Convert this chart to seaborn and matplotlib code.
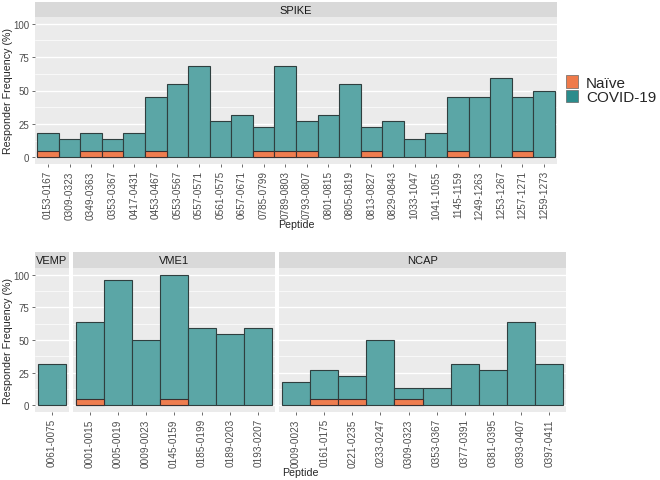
import numpy as np
import pandas as pd
import matplotlib
import matplotlib.pyplot as plt
import seaborn as sns
from matplotlib.patches import Patch

matplotlib.use('agg')

# Data
spike_peptides = ['0153-0167', '0309-0323', '0349-0363', '0353-0367', '0417-0431', '0453-0467',
                  '0553-0567', '0557-0571', '0561-0575', '0657-0671', '0785-0799', '0789-0803',
                  '0793-0807', '0801-0815', '0805-0819', '0813-0827', '0829-0843', '1033-1047',
                  '1041-1055', '1145-1159', '1249-1263', '1253-1267', '1257-1271', '1259-1273']
spike_covid = [18.2, 13.6, 18.2, 13.6, 18.2, 45.5, 54.5, 68.2, 27.3, 31.8, 22.7, 68.2,
               27.3, 31.8, 54.5, 22.7, 27.3, 13.6, 18.2, 45.5, 45.5, 59.1, 45.5, 50.0]
spike_naive = [5, 0, 5, 5, 0, 5, 0, 0, 0, 0, 5, 5,
               5, 0, 0, 5, 0, 0, 0, 5, 0, 0, 5, 0]

vemp_peptides = ['0061-0075']
vemp_covid = [31.8]
vemp_naive = [0]

vme1_peptides = ['0001-0015', '0005-0019', '0009-0023', '0145-0159', '0185-0199', '0189-0203', '0193-0207']
vme1_covid = [63.6, 95.5, 50.0, 100.0, 59.1, 54.5, 59.1]
vme1_naive = [5, 0, 0, 5, 0, 0, 0]

ncap_peptides = ['0009-0023', '0161-0175', '0221-0235', '0233-0247', '0309-0323',
                 '0353-0367', '0377-0391', '0381-0395', '0393-0407', '0397-0411']
ncap_covid = [18.2, 27.3, 22.7, 50.0, 13.6, 13.6, 31.8, 27.3, 63.6, 31.8]
ncap_naive = [0, 5, 5, 0, 5, 0, 0, 0, 0, 0]

teal = '#5BA6A6'
orange = '#EE7D4F'
grey_txt = '#4D4D4D'

sns.set_style('darkgrid', {'axes.facecolor': '#EBEBEB', 'grid.color': 'white'})
plt.rcParams['font.family'] = ['Liberation Sans', 'DejaVu Sans']

W, H = 660, 481
fig = plt.figure(figsize=(6.6, 4.81), dpi=100)


def box(x0, y0, x1, y1):
    # pixel box (top-left origin) -> figure fraction
    return [x0 / W, 1 - y1 / H, (x1 - x0) / W, (y1 - y0) / H]


def panel(rect, strip_rect, title, peptides, covid, naive, show_y):
    ax = fig.add_axes(box(*rect))
    df = pd.DataFrame({'peptide': peptides, 'covid': covid, 'naive': naive})
    sns.barplot(data=df, x='peptide', y='covid', order=peptides, ax=ax, color=teal,
                saturation=1, width=1, edgecolor='#2F3F3F', linewidth=0.8)
    dn = df[df['naive'] > 0]
    sns.barplot(data=dn, x='peptide', y='naive', order=peptides, ax=ax, color=orange,
                saturation=1, width=1, edgecolor='#3A3030', linewidth=0.8)
    ax.set_xlim(-0.6, len(peptides) - 0.4)
    ax.set_ylim(-5, 105)
    ax.set_yticks([0, 25, 50, 75, 100])
    ax.set_yticks([12.5, 37.5, 62.5, 87.5], minor=True)
    ax.grid(which='major', axis='y', color='white', linewidth=1.0)
    ax.grid(which='minor', axis='y', color='white', linewidth=0.5)
    ax.grid(which='major', axis='x', visible=False)
    ax.set_xlabel('')
    ax.set_ylabel('')
    ax.tick_params(axis='x', labelrotation=90, labelsize=7.2, labelcolor=grey_txt,
                   length=2.5, width=0.5, color='#333333', bottom=True, pad=2)
    if show_y:
        ax.tick_params(axis='y', labelsize=7, labelcolor=grey_txt,
                       length=2.5, width=0.5, color='#333333', left=True, pad=1.5)
    else:
        ax.tick_params(axis='y', left=False, labelleft=False)
    ax.tick_params(axis='y', which='minor', left=False)
    for s in ax.spines.values():
        s.set_visible(False)

    sax = fig.add_axes(box(*strip_rect))
    sax.set_facecolor('#D9D9D9')
    sax.set_xticks([])
    sax.set_yticks([])
    sax.grid(False)
    for s in sax.spines.values():
        s.set_visible(False)
    sax.text(0.5, 0.5, title, ha='center', va='center', fontsize=8, color='#1A1A1A',
             transform=sax.transAxes)
    return ax


# Top facet (SPIKE)
panel((35, 18, 557, 165), (35, 3, 557, 18), 'SPIKE', spike_peptides, spike_covid, spike_naive, True)

# Bottom facets, widths proportional to number of peptides
left, right, gap = 35, 566, 4
groups = [('VEMP', vemp_peptides, vemp_covid, vemp_naive),
          ('VME1', vme1_peptides, vme1_covid, vme1_naive),
          ('NCAP', ncap_peptides, ncap_covid, ncap_naive)]
units = [len(g[1]) + 0.2 for g in groups]
ppu = (right - left - gap * (len(groups) - 1)) / sum(units)
x0 = left
for i, (name, pep, cov, nai) in enumerate(groups):
    x1 = x0 + units[i] * ppu
    panel((x0, 269, x1, 413), (x0, 253, x1, 269), name, pep, cov, nai, i == 0)
    x0 = x1 + gap

# Axis titles
fig.text(296 / W, 1 - 225 / H, 'Peptide', ha='center', va='center', fontsize=7.7)
fig.text(300 / W, 1 - 473 / H, 'Peptide', ha='center', va='center', fontsize=7.7)
fig.text(8 / W, 1 - 91 / H, 'Responder Frequency (%)', ha='center', va='center',
         rotation=90, fontsize=7.7)
fig.text(8 / W, 1 - 341 / H, 'Responder Frequency (%)', ha='center', va='center',
         rotation=90, fontsize=7.7)

# Legend
handles = [Patch(facecolor='#EF7A4A', edgecolor='#666666', linewidth=0.5, label='Naïve'),
           Patch(facecolor='#2B8C8C', edgecolor='#666666', linewidth=0.5, label='COVID-19')]
fig.legend(handles=handles, loc='upper left', bbox_to_anchor=(566 / W, 1 - 76 / H),
           frameon=False, fontsize=11, handlelength=0.8, handleheight=0.9,
           labelspacing=0.0, handletextpad=0.5, borderpad=0, borderaxespad=0)

fig.savefig('out.png', dpi=100)
